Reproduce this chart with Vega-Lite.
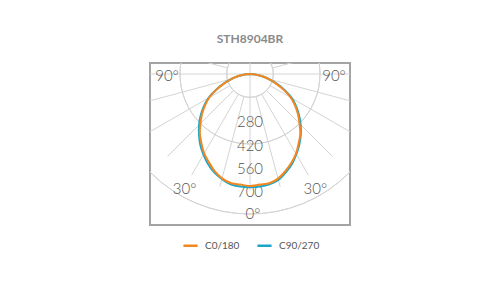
{
  "$schema": "https://vega.github.io/schema/vega-lite/v6.json",
  "autosize": {"type": "none"},
  "padding": {"left": 150, "top": 63, "right": 150, "bottom": 75},
  "width": 200,
  "height": 162,
  "background": "white",
  "config": {
    "font": "Lato",
    "view": {"stroke": "#a3a3a3", "strokeWidth": 2},
    "legend": {"labelFont": "Lato", "labelFontSize": 10, "labelColor": "#555"}
  },
  "title": {
    "text": "STH8904BR",
    "anchor": "middle",
    "frame": "group",
    "fontSize": 12,
    "fontWeight": "bold",
    "color": "#8a8a8a",
    "baseline": "alphabetic",
    "offset": 8
  },
  "datasets": {
    "rings": [{"r": 140}, {"r": 280}, {"r": 420}, {"r": 560}, {"r": 700}],
    "spokes": [
      {"a": 0, "r1": 0, "r2": 700}, {"a": 15, "r1": 140, "r2": 700}, {"a": 30, "r1": 140, "r2": 700},
      {"a": 45, "r1": 140, "r2": 700}, {"a": 60, "r1": 140, "r2": 700}, {"a": 75, "r1": 140, "r2": 700},
      {"a": 90, "r1": 0, "r2": 700}, {"a": 105, "r1": 140, "r2": 700}, {"a": 120, "r1": 140, "r2": 700},
      {"a": 135, "r1": 140, "r2": 700}, {"a": 150, "r1": 140, "r2": 700}, {"a": 165, "r1": 140, "r2": 700},
      {"a": 180, "r1": 0, "r2": 700}, {"a": -15, "r1": 140, "r2": 700}, {"a": -30, "r1": 140, "r2": 700},
      {"a": -45, "r1": 140, "r2": 700}, {"a": -60, "r1": 140, "r2": 700}, {"a": -75, "r1": 140, "r2": 700},
      {"a": -90, "r1": 0, "r2": 700}, {"a": -105, "r1": 140, "r2": 700}, {"a": -120, "r1": 140, "r2": 700},
      {"a": -135, "r1": 140, "r2": 700}, {"a": -150, "r1": 140, "r2": 700}, {"a": -165, "r1": 140, "r2": 700}
    ],
    "labels": [
      {"t": "280", "a": 0, "cd": 280},
      {"t": "420", "a": 0, "cd": 420},
      {"t": "560", "a": 0, "cd": 560},
      {"t": "700", "a": 0, "cd": 700},
      {"t": "0°", "a": 1.2, "cd": 831},
      {"t": "30°", "a": -30, "cd": 785},
      {"t": "30°", "a": 30, "cd": 785},
      {"t": "90°", "a": -90, "cd": 498},
      {"t": "90°", "a": 90, "cd": 504}
    ],
    "c0": [
      {"a": -90, "cd": 0}, {"a": -85, "cd": 32}, {"a": -80, "cd": 70}, {"a": -75, "cd": 114},
      {"a": -70, "cd": 164}, {"a": -65, "cd": 222}, {"a": -60, "cd": 282}, {"a": -55, "cd": 330},
      {"a": -50, "cd": 376}, {"a": -45, "cd": 420}, {"a": -40, "cd": 468}, {"a": -35, "cd": 508},
      {"a": -30, "cd": 550}, {"a": -25, "cd": 584}, {"a": -20, "cd": 620}, {"a": -15, "cd": 648},
      {"a": -10, "cd": 664}, {"a": -5, "cd": 666}, {"a": 0, "cd": 672}, {"a": 5, "cd": 666},
      {"a": 10, "cd": 666}, {"a": 15, "cd": 650}, {"a": 20, "cd": 620}, {"a": 25, "cd": 588},
      {"a": 30, "cd": 552}, {"a": 35, "cd": 508}, {"a": 40, "cd": 470}, {"a": 45, "cd": 420},
      {"a": 50, "cd": 376}, {"a": 55, "cd": 330}, {"a": 60, "cd": 282}, {"a": 65, "cd": 222},
      {"a": 70, "cd": 164}, {"a": 75, "cd": 114}, {"a": 80, "cd": 70}, {"a": 85, "cd": 32}, {"a": 90, "cd": 0}
    ],
    "c90": [
      {"a": -90, "cd": 0}, {"a": -85, "cd": 32}, {"a": -80, "cd": 70}, {"a": -75, "cd": 116},
      {"a": -70, "cd": 168}, {"a": -65, "cd": 226}, {"a": -60, "cd": 288}, {"a": -55, "cd": 338},
      {"a": -50, "cd": 386}, {"a": -45, "cd": 432}, {"a": -40, "cd": 476}, {"a": -35, "cd": 520},
      {"a": -30, "cd": 558}, {"a": -25, "cd": 596}, {"a": -20, "cd": 628}, {"a": -15, "cd": 652},
      {"a": -10, "cd": 672}, {"a": -5, "cd": 678}, {"a": 0, "cd": 680}, {"a": 5, "cd": 678},
      {"a": 10, "cd": 672}, {"a": 15, "cd": 658}, {"a": 20, "cd": 628}, {"a": 25, "cd": 596},
      {"a": 30, "cd": 556}, {"a": 35, "cd": 516}, {"a": 40, "cd": 474}, {"a": 45, "cd": 430},
      {"a": 50, "cd": 384}, {"a": 55, "cd": 338}, {"a": 60, "cd": 290}, {"a": 65, "cd": 230},
      {"a": 70, "cd": 170}, {"a": 75, "cd": 116}, {"a": 80, "cd": 70}, {"a": 85, "cd": 32}, {"a": 90, "cd": 0}
    ]
  },
  "layer": [
    {
      "data": {"name": "rings"},
      "mark": {"type": "arc", "fill": null, "filled": false, "stroke": "#d4d4d4", "strokeWidth": 1, "theta": 0, "theta2": 6.2832, "clip": true},
      "encoding": {
        "x": {"datum": 0, "type": "quantitative", "scale": {"domain": [-600, 600], "nice": false, "zero": false}, "axis": null},
        "y": {"datum": 0, "type": "quantitative", "scale": {"domain": [-906, 66], "nice": false, "zero": false}, "axis": null},
        "radius": {"field": "r", "type": "quantitative", "scale": {"type": "linear", "domain": [0, 840], "range": [0, 140], "zero": true}, "legend": null}
      }
    },
    {
      "data": {"name": "spokes"},
      "transform": [
        {"calculate": "datum.r1*sin(datum.a*PI/180)", "as": "x1"},
        {"calculate": "-datum.r1*cos(datum.a*PI/180)", "as": "y1"},
        {"calculate": "datum.r2*sin(datum.a*PI/180)", "as": "xe"},
        {"calculate": "-datum.r2*cos(datum.a*PI/180)", "as": "ye"}
      ],
      "mark": {"type": "rule", "stroke": "#d4d4d4", "strokeWidth": 1, "clip": true},
      "encoding": {
        "x": {"field": "x1", "type": "quantitative", "scale": {"domain": [-600, 600], "nice": false, "zero": false}, "axis": null},
        "y": {"field": "y1", "type": "quantitative", "scale": {"domain": [-906, 66], "nice": false, "zero": false}, "axis": null},
        "x2": {"field": "xe"},
        "y2": {"field": "ye"}
      }
    },
    {
      "data": {"name": "labels"},
      "transform": [
        {"calculate": "datum.cd*sin(datum.a*PI/180)", "as": "x"},
        {"calculate": "-datum.cd*cos(datum.a*PI/180)", "as": "y"}
      ],
      "mark": {"type": "text", "font": "Lato", "fontSize": 15, "fontWeight": 300, "color": "#555", "align": "center", "baseline": "middle", "dy": 1.5},
      "encoding": {
        "x": {"field": "x", "type": "quantitative", "scale": {"domain": [-600, 600], "nice": false, "zero": false}, "axis": null},
        "y": {"field": "y", "type": "quantitative", "scale": {"domain": [-906, 66], "nice": false, "zero": false}, "axis": null},
        "text": {"field": "t"}
      }
    },
    {
      "data": {"name": "c90"},
      "transform": [
        {"calculate": "datum.cd*sin(datum.a*PI/180)", "as": "x"},
        {"calculate": "-datum.cd*cos(datum.a*PI/180)", "as": "y"}
      ],
      "mark": {"type": "line", "strokeWidth": 2, "interpolate": "catmull-rom"},
      "encoding": {
        "x": {"field": "x", "type": "quantitative", "scale": {"domain": [-600, 600], "nice": false, "zero": false}, "axis": null},
        "y": {"field": "y", "type": "quantitative", "scale": {"domain": [-906, 66], "nice": false, "zero": false}, "axis": null},
        "order": {"field": "a", "type": "quantitative"},
        "color": {"datum": "C90/270", "type": "nominal", "scale": {"domain": ["C0/180", "C90/270"], "range": ["#f5871f", "#18a7c9"]},
          "legend": {"title": null, "orient": "none", "legendX": 32, "legendY": 174, "direction": "horizontal", "symbolType": "stroke", "symbolSize": 200, "symbolStrokeWidth": 2.5, "labelOffset": 6, "columnPadding": 12}}
      }
    },
    {
      "data": {"name": "c0"},
      "transform": [
        {"calculate": "datum.cd*sin(datum.a*PI/180)", "as": "x"},
        {"calculate": "-datum.cd*cos(datum.a*PI/180)", "as": "y"}
      ],
      "mark": {"type": "line", "strokeWidth": 2, "interpolate": "catmull-rom"},
      "encoding": {
        "x": {"field": "x", "type": "quantitative", "scale": {"domain": [-600, 600], "nice": false, "zero": false}, "axis": null},
        "y": {"field": "y", "type": "quantitative", "scale": {"domain": [-906, 66], "nice": false, "zero": false}, "axis": null},
        "order": {"field": "a", "type": "quantitative"},
        "color": {"datum": "C0/180", "type": "nominal"}
      }
    }
  ]
}
